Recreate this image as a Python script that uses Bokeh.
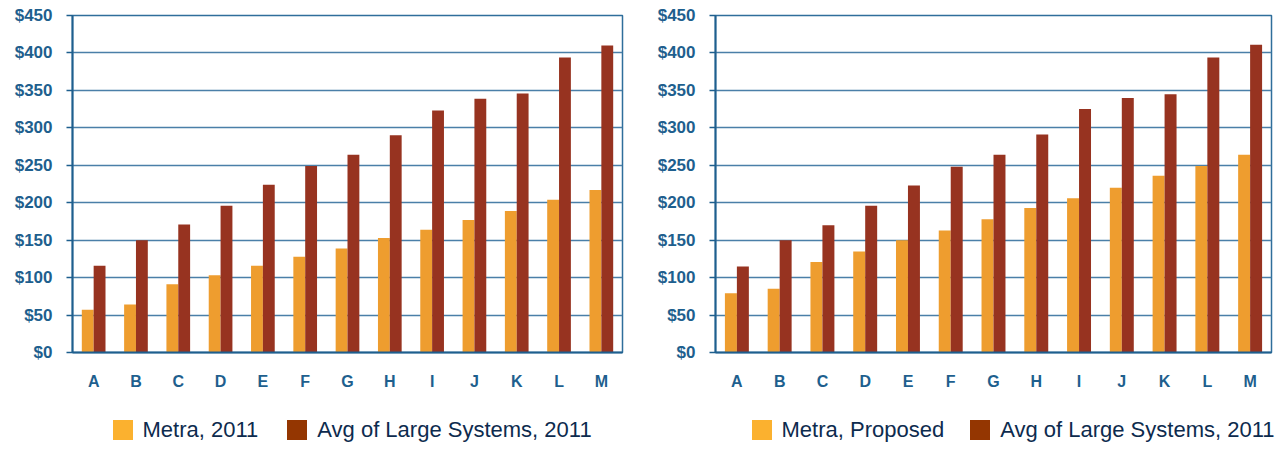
from bokeh.plotting import figure
from bokeh.models import (ColumnDataSource, FactorRange, Range1d, FixedTicker,
                          Legend, LegendItem)
from bokeh.transform import dodge
from bokeh.layouts import row, column
from bokeh.embed import file_html
from bokeh.resources import INLINE

# ---- data ----
categories = ["A", "B", "C", "D", "E", "F", "G", "H", "I", "J", "K", "L", "M"]
metra_2011 = [57, 64, 91, 103, 116, 128, 139, 153, 164, 177, 189, 204, 217]
large_avg_left = [116, 150, 171, 196, 224, 249, 264, 290, 323, 339, 346, 394, 410]
metra_proposed = [79, 85, 121, 135, 150, 163, 178, 193, 206, 220, 236, 249, 264]
large_avg_right = [115, 150, 170, 196, 223, 248, 264, 291, 325, 340, 345, 394, 411]
y_ticks = [0, 50, 100, 150, 200, 250, 300, 350, 400, 450]
y_tick_labels = ["$0", "$50", "$100", "$150", "$200", "$250", "$300", "$350", "$400", "$450"]
label_metra_left = "Metra, 2011"
label_metra_right = "Metra, Proposed"
label_large = "Avg of Large Systems, 2011"

ORANGE = "#EE9D2F"
RED = "#973320"
LEG_ORANGE = "#FBB12F"
LEG_RED = "#943601"
BLUE = "#1E5F8E"
GRID = "#4A7FA8"

CHART_H = 400
LEG_H = 49


def make_chart(metra, large, width, border_left, border_right):
    src = ColumnDataSource(dict(cat=categories, metra=metra, large=large))
    p = figure(x_range=FactorRange(*categories, range_padding=0),
               y_range=Range1d(0, 450),
               width=width, height=CHART_H, output_backend="svg",
               toolbar_location=None, tools="",
               min_border_left=border_left, min_border_right=border_right,
               min_border_top=15, min_border_bottom=CHART_H - 15 - 337)
    p.background_fill_color = "white"
    p.border_fill_color = "white"
    p.outline_line_color = "#2F6E9B"
    p.outline_line_width = 1.5

    p.vbar(x=dodge("cat", -0.14, range=p.x_range), top="metra", width=0.28,
           source=src, fill_color=ORANGE, line_color=None)
    p.vbar(x=dodge("cat", 0.14, range=p.x_range), top="large", width=0.28,
           source=src, fill_color=RED, line_color=None)

    # y axis
    ya = p.yaxis[0]
    ya.ticker = FixedTicker(ticks=y_ticks)
    ya.major_label_overrides = {t: l for t, l in zip(y_ticks, y_tick_labels)}
    ya.major_label_text_font = "Liberation Sans"
    ya.major_label_text_font_style = "bold"
    ya.major_label_text_font_size = "17px"
    ya.major_label_text_color = BLUE
    ya.major_tick_out = 6
    ya.major_tick_in = 0
    ya.major_tick_line_color = BLUE
    ya.major_tick_line_width = 1.5
    ya.minor_tick_line_color = None
    ya.axis_line_color = BLUE
    ya.axis_line_width = 2
    ya.major_label_standoff = 14

    # x axis
    xa = p.xaxis[0]
    xa.major_label_text_font = "Liberation Sans"
    xa.major_label_text_font_style = "bold"
    xa.major_label_text_font_size = "16px"
    xa.major_label_text_color = BLUE
    xa.major_tick_line_color = None
    xa.minor_tick_line_color = None
    xa.major_tick_out = 0
    xa.axis_line_color = BLUE
    xa.axis_line_width = 2
    xa.major_label_standoff = 20

    p.xgrid.grid_line_color = None
    p.ygrid.ticker = FixedTicker(ticks=y_ticks)
    p.ygrid.grid_line_color = GRID
    p.ygrid.grid_line_width = 1.3
    return p


def add_legend(lf, metra_label, legend_x, spacing):
    # one off-screen zero-height swatch per colour, used only by the legend
    sw = ColumnDataSource(dict(x=[-5], v=[0]))
    r1 = lf.vbar(x="x", top="v", width=0.1, source=sw,
                 fill_color=LEG_ORANGE, line_color=None)
    r2 = lf.vbar(x="x", top="v", width=0.1, source=sw,
                 fill_color=LEG_RED, line_color=None)
    legend = Legend(items=[LegendItem(label=metra_label, renderers=[r1]),
                           LegendItem(label=label_large, renderers=[r2])],
                    orientation="horizontal", location=(legend_x, 6.5),
                    glyph_width=25, glyph_height=25, label_standoff=8,
                    spacing=spacing, padding=0, margin=0,
                    border_line_color=None, background_fill_alpha=0,
                    label_text_font="Liberation Sans", label_text_font_size="22px",
                    label_text_color="#0D2B4E", label_height=25)
    lf.add_layout(legend, "center")


p1 = make_chart(metra_2011, large_avg_left, 640, 72, 18)
p2 = make_chart(metra_proposed, large_avg_right, 648, 75, 17)

lf = figure(width=1288, height=LEG_H, output_backend="svg",
            toolbar_location=None, tools="",
            x_range=Range1d(0, 1), y_range=Range1d(0, 1), min_border=0)
lf.axis.visible = False
lf.grid.grid_line_color = None
lf.outline_line_color = None
lf.background_fill_color = "white"
lf.border_fill_color = "white"
add_legend(lf, label_metra_left, 109.5, 26)
add_legend(lf, label_metra_right, 748.5, 23)

layout = column(row(p1, p2), lf)
open("out.html", "w").write(file_html(layout, INLINE))
